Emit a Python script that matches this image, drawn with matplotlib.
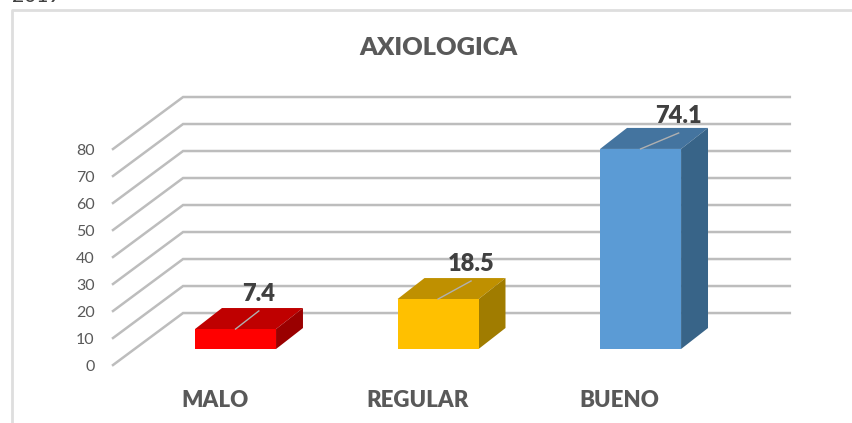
import matplotlib
matplotlib.use('Agg')
import matplotlib.pyplot as plt
from matplotlib.patches import Polygon

plt.rcParams['font.family'] = ['Lato', 'DejaVu Sans']

categorias = ['MALO', 'REGULAR', 'BUENO']
valores = [7.4, 18.5, 74.1]
etiquetas = ['7.4', '18.5', '74.1']
ticks = [0, 10, 20, 30, 40, 50, 60, 70, 80]

color_frente = ['#ff0000', '#ffc000', '#5b9bd5']
color_arriba = ['#bf0000', '#bf9000', '#44749f']
color_lado = ['#9a0000', '#a07c00', '#386488']

# desplazamiento de cada etiqueta respecto a su barra
guia_dx = [0.115, 0.163, 0.188]
guia_dy = [6.7, 6.7, 5.9]

fig = plt.figure(figsize=(8.52, 4.23), dpi=100)
ax = fig.add_axes([0, 0, 1, 1])
# una categoria = 202.5 px, una unidad = 2.7 px
ax.set_xlim(-1.163, 3.044)
ax.set_ylim(-27.4, 129.26)
ax.axis('off')

ancho = 0.4
dx = 0.133     # profundidad de la barra
dy = 7.78
x_izq = -0.605  # pared izquierda, frente
x_fondo = -0.259
x_der = 2.737
y_front = -5.93
y_back = 13.33

# marco
ax.plot([-1.104, -1.104, 3.044], [-27.4, 125.4, 125.4], color='#dedede', lw=2, zorder=1)

# texto cortado arriba del marco
ax.text(-1.104, 128.5, '2019', ha='left', va='baseline', fontsize=15, color='#404040')

# rejilla
for t in ticks:
    ax.plot([x_izq, x_fondo, x_der], [t + y_front, t + y_back, t + y_back],
            color='#bdbdbd', lw=1.8, zorder=2, solid_joinstyle='miter')
    ax.text(x_izq - 0.09, t + y_front - 0.7, str(t), ha='right', va='center',
            fontsize=11.5, color='#595959')

# barras
for i, v in enumerate(valores):
    x0 = i - ancho / 2
    x1 = i + ancho / 2
    ax.add_patch(Polygon([(x0, 0), (x1, 0), (x1, v), (x0, v)], fc=color_frente[i], ec='none', zorder=5))
    ax.add_patch(Polygon([(x0, v), (x1, v), (x1 + dx, v + dy), (x0 + dx, v + dy)],
                         fc=color_arriba[i], ec='none', zorder=4))
    ax.add_patch(Polygon([(x1, 0), (x1 + dx, dy), (x1 + dx, v + dy), (x1, v)],
                         fc=color_lado[i], ec='none', zorder=4))
    # linea guia de la etiqueta
    ax.plot([i, i + guia_dx[i]], [v, v + guia_dy[i]], color='#b0b0b0', lw=1, zorder=6)
    ax.text(i + guia_dx[i], v + guia_dy[i] + 6.2, etiquetas[i], ha='center', va='center', fontsize=17,
            fontweight='heavy', color='#404040', zorder=7)
    ax.text(i - 0.103, -18.9, categorias[i], ha='center', va='center', fontsize=16,
            fontweight='heavy', color='#595959')

ax.text(1.0, 111.3, 'AXIOLOGICA', ha='center', va='center', fontsize=18.2,
        fontweight='heavy', color='#595959')

fig.savefig('out.png', dpi=100)
